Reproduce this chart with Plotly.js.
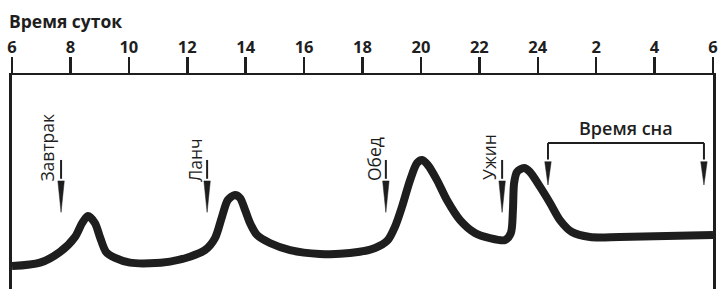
<!DOCTYPE html>
<html>
<head>
<meta charset="utf-8">
<script src="https://cdn.plot.ly/plotly-3.0.1.min.js"></script>
<style>html,body{margin:0;padding:0;background:#fff;}#chart{width:718px;height:289px;}</style>
</head>
<body>
<div id="chart"></div>
<script>
// Time of day (hours, 24+ = after midnight)
const hours = [6.0, 6.96, 7.64, 8.16, 8.40, 8.60, 8.84, 9.01, 9.22, 9.53, 10.04, 10.72, 11.41, 12.09, 12.61, 12.95, 13.19, 13.39, 13.63, 13.81, 13.98, 14.15, 14.39, 14.83, 15.52, 16.54, 17.57, 18.43, 18.87, 19.11, 19.35, 19.63, 19.87, 20.04, 20.24, 20.55, 20.89, 21.34, 21.85, 22.36, 22.88, 23.08, 23.15, 23.19, 23.29, 23.53, 23.73, 24.08, 24.42, 24.76, 25.17, 25.79, 26.81, 30.0];
// Level (arbitrary units)
const level = [10.7, 12.3, 17.3, 24.4, 30.8, 34.1, 30.8, 24.3, 17.3, 14.5, 12.3, 12.0, 12.8, 15.1, 18.2, 23.8, 33.8, 41.6, 43.9, 42.5, 36.9, 30.8, 25.2, 21.5, 18.2, 16.4, 16.8, 19.2, 22.9, 29.0, 38.3, 50.9, 58.9, 60.3, 57.9, 50.9, 41.6, 32.2, 26.2, 23.8, 22.9, 26.2, 36.9, 49.5, 54.7, 56.5, 54.7, 47.7, 40.2, 32.2, 26.6, 24.3, 24.3, 25.2];

const tickVals = [6, 8, 10, 12, 14, 16, 18, 20, 22, 24, 26, 28, 30];
const tickLabels = ['6', '8', '10', '12', '14', '16', '18', '20', '22', '24', '2', '4', '6'];

const mealLabels = ['Завтрак', 'Ланч', 'Обед', 'Ужин'];
const mealTimes = [7.68, 12.68, 18.80, 22.78];
const sleepLabel = 'Время сна';
const sleepStart = 24.35;
const sleepEnd = 29.69;

const INK = '#1e1e1e';
const FONT = '"Open Sans", "Noto Sans", sans-serif';

const annotations = [];
const shapes = [];

// axis title
annotations.push({xref: 'paper', yref: 'paper', x: -0.007, y: 1.252, xanchor: 'left', yanchor: 'middle',
  text: 'Время суток', showarrow: false, font: {family: FONT, size: 17.5, color: INK, weight: 700}});

// spear-shaped arrow: shaft + long narrow head
function spear(x, yTail, yNeck, yTip) {
  const w = 0.11;
  shapes.push({type: 'line', xref: 'x', yref: 'y', x0: x, x1: x, y0: yTail, y1: yNeck + 1,
    line: {color: INK, width: 2}});
  shapes.push({type: 'path', xref: 'x', yref: 'y',
    path: `M ${x - w} ${yNeck} L ${x + w} ${yNeck} L ${x} ${yTip} Z`,
    fillcolor: INK, line: {color: INK, width: 0.5}});
}

const labelDx = [-0.48, -0.41, -0.41, -0.45];
const labelY = [66.1, 60.3, 60.7, 61.7];
mealLabels.forEach((lab, i) => {
  annotations.push({xref: 'x', yref: 'y', x: mealTimes[i] + labelDx[i], y: labelY[i], text: lab, textangle: -90,
    showarrow: false, xanchor: 'center', yanchor: 'middle', font: {family: FONT, size: 17.5, color: INK}});
  spear(mealTimes[i], 60.3, 50.5, 35.8);
});
[sleepStart, sleepEnd].forEach(x => spear(x, 68.2, 59.5, 48.6));
shapes.push({type: 'line', xref: 'x', yref: 'y', x0: sleepStart, x1: sleepEnd, y0: 68.2, y1: 68.2,
  line: {color: INK, width: 2}});
annotations.push({xref: 'x', yref: 'y', x: (sleepStart + sleepEnd) / 2, y: 75.4, text: sleepLabel, showarrow: false,
  xanchor: 'center', yanchor: 'middle', font: {family: FONT, size: 18, color: INK, weight: 600}});

const trace = {x: hours, y: level, type: 'scatter', mode: 'lines',
  line: {color: INK, width: 8, shape: 'spline', smoothing: 0.8}, hoverinfo: 'skip'};

const layout = {
  width: 718, height: 289,
  margin: {l: 12, r: 5, t: 75, b: 0, pad: 0},
  paper_bgcolor: '#fff', plot_bgcolor: '#fff',
  showlegend: false,
  xaxis: {range: [6, 30], side: 'top', showgrid: false, zeroline: false,
    showline: true, linecolor: INK, linewidth: 2.5,
    ticks: 'outside', ticklen: 16, tickwidth: 2.5, tickcolor: INK,
    ticklabelstandoff: -3,
    tickmode: 'array', tickvals: tickVals, ticktext: tickLabels,
    tickfont: {family: FONT, size: 16.5, color: INK, weight: 700}},
  yaxis: {range: [0, 100], showgrid: false, zeroline: false, showticklabels: false, ticks: '',
    showline: true, mirror: true, linecolor: INK, linewidth: 3},
  annotations: annotations,
  shapes: shapes
};

Plotly.newPlot('chart', [trace], layout, {staticPlot: true, displayModeBar: false});
</script>
</body>
</html>
